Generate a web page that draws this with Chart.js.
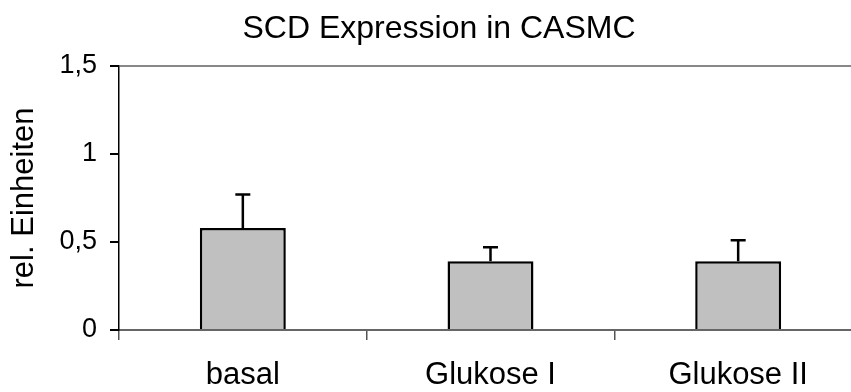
<!DOCTYPE html>
<html>
<head>
<meta charset="utf-8">
<script src="https://cdn.jsdelivr.net/npm/chart.js@4"></script>
<style>
  body { margin: 0; overflow: hidden; background: #fff; }
  #wrap { width: 864px; height: 392px; }
</style>
</head>
<body>
<div id="wrap"><canvas id="scd-chart"></canvas></div>
<script>
var categories = ["basal", "Glukose I", "Glukose II"];
var values = [0.58, 0.39, 0.39];
var errors = [0.19, 0.08, 0.12];
var yTicks = [0, 0.5, 1, 1.5];

// upward error bars, drawn from the bar top
var errorBars = {
  id: "errorBars",
  afterDatasetsDraw: function (chart) {
    var ctx = chart.ctx;
    var y = chart.scales.y;
    var meta = chart.getDatasetMeta(0);
    ctx.save();
    ctx.strokeStyle = "#000";
    ctx.lineWidth = 2.5;
    meta.data.forEach(function (bar, i) {
      var top = y.getPixelForValue(values[i]);
      var end = y.getPixelForValue(values[i] + errors[i]);
      ctx.beginPath();
      ctx.moveTo(bar.x, top);
      ctx.lineTo(bar.x, end);
      ctx.moveTo(bar.x - 7.5, end);
      ctx.lineTo(bar.x + 7.5, end);
      ctx.stroke();
    });
    ctx.restore();
  },
};

var ctx = document.getElementById("scd-chart");
new Chart(ctx, {
  type: "bar",
  data: {
    labels: categories,
    datasets: [
      {
        data: values,
        backgroundColor: "#C0C0C0",
        borderColor: "#000",
        borderWidth: 2.5,
        barPercentage: 0.347,
        categoryPercentage: 1,
      },
    ],
  },
  plugins: [errorBars],
  options: {
    responsive: true,
    maintainAspectRatio: false,
    animation: false,
    layout: { padding: { left: 16, right: 2, top: 0, bottom: 0 } },
    plugins: {
      legend: { display: false },
      tooltip: { enabled: false },
      title: {
        display: true,
        text: "SCD Expression in CASMC",
        color: "#000",
        font: { family: "Liberation Sans", size: 32, weight: "normal" },
        padding: { top: 10, bottom: 17.6 },
      },
    },
    scales: {
      x: {
        afterFit: function (scale) { scale.height = 62; },
        grid: {
          offset: true,
          color: "transparent",
          tickColor: "#555",
          tickLength: 10,
          lineWidth: 1.5,
        },
        border: { color: "#666", width: 2 },
        ticks: {
          color: "#000",
          padding: 17,
          font: { family: "Liberation Sans", size: 31 },
        },
      },
      y: {
        min: 0,
        max: 1.5,
        afterFit: function (scale) { scale.width = 103; },
        afterBuildTicks: function (scale) {
          scale.ticks = yTicks.map(function (v) { return { value: v }; });
        },
        grid: {
          color: function (c) { return c.tick && c.tick.value === 1.5 ? "#888" : "transparent"; },
          lineWidth: 2,
          tickColor: "#000",
          tickLength: 9,
        },
        border: { color: "#000", width: 1.5 },
        ticks: {
          color: "#000",
          padding: 13,
          font: { family: "Liberation Sans", size: 27 },
          callback: function (v) { return String(v).replace(".", ","); },
        },
        title: {
          display: true,
          text: "rel. Einheiten",
          color: "#000",
          font: { family: "Liberation Sans", size: 31 },
          padding: { top: -10, bottom: 0 },
        },
      },
    },
  },
});
</script>
</body>
</html>
